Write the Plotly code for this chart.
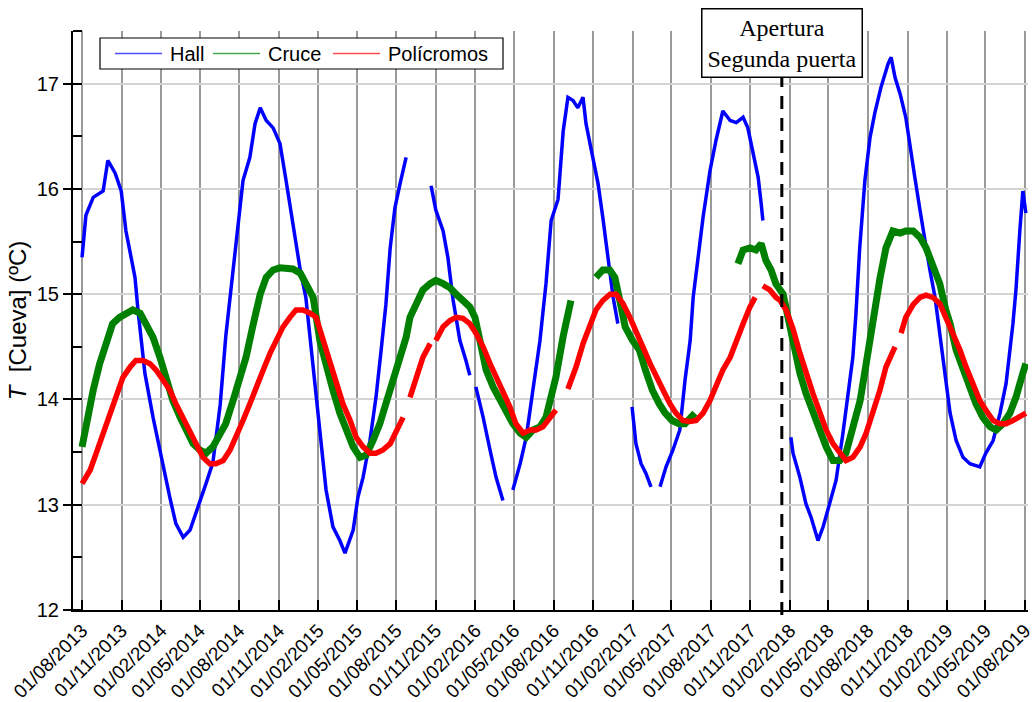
import plotly.graph_objects as go

# ---------------- data ----------------
hall_dates = [
    "2013-08-01", "2013-08-10", "2013-08-27", "2013-09-19", "2013-09-30", "2013-10-17", "2013-10-31",
    "2013-11-11", "2013-11-23", "2013-12-02", "2013-12-09", "2013-12-25", "2014-01-13", "2014-02-01",
    "2014-02-21", "2014-03-07", "2014-03-24", "2014-04-09", "2014-05-02", "2014-05-16", "2014-06-01",
    "2014-06-18", "2014-07-01", "2014-07-15", "2014-07-30", "2014-08-10", "2014-08-26", "2014-09-07",
    "2014-09-19", "2014-10-03", "2014-10-19", "2014-11-04", "2014-11-18", "2014-12-04", "2014-12-21",
    "2015-01-03", "2015-01-20", "2015-02-05", "2015-02-19", "2015-03-07", "2015-03-23", "2015-04-04",
    "2015-04-23", "2015-05-04", "2015-05-16", "2015-06-01", "2015-06-15", "2015-06-27", "2015-07-08",
    "2015-07-18", "2015-07-29", "2015-08-10", "2015-08-24",
    "2015-09-15",
    "2015-10-21", "2015-11-01", "2015-11-18", "2015-11-29", "2015-12-11", "2015-12-27", "2016-01-10",
    "2016-01-19",
    "2016-01-26",
    "2016-02-02", "2016-02-19", "2016-03-06", "2016-03-20", "2016-04-05",
    "2016-04-15",
    "2016-04-28", "2016-05-15", "2016-05-29", "2016-06-14", "2016-06-30", "2016-07-14", "2016-07-26",
    "2016-08-11", "2016-08-23", "2016-09-03", "2016-09-15", "2016-09-26", "2016-10-08", "2016-10-15",
    "2016-10-31", "2016-11-12", "2016-11-23", "2016-12-05", "2016-12-17", "2016-12-28",
    "2017-01-15",
    "2017-01-30", "2017-02-08", "2017-02-20", "2017-03-03", "2017-03-15",
    "2017-03-25",
    "2017-04-05", "2017-04-19", "2017-05-05", "2017-05-21", "2017-06-02", "2017-06-14", "2017-06-21",
    "2017-07-02", "2017-07-14", "2017-07-30", "2017-08-13", "2017-08-29", "2017-09-15", "2017-09-29",
    "2017-10-15", "2017-10-26", "2017-11-07", "2017-11-19", "2017-11-26", "2017-11-30",
    "2018-01-01",
    "2018-02-03", "2018-02-08", "2018-02-24", "2018-03-10", "2018-03-22", "2018-04-07", "2018-04-19",
    "2018-05-05", "2018-05-19", "2018-06-04", "2018-06-16", "2018-06-27", "2018-07-04", "2018-07-13",
    "2018-07-25", "2018-08-06", "2018-08-17", "2018-08-31", "2018-09-17", "2018-09-24", "2018-10-03",
    "2018-10-15", "2018-10-28", "2018-11-07", "2018-11-18", "2018-11-30", "2018-12-12", "2018-12-23",
    "2019-01-04", "2019-01-15", "2019-01-27", "2019-02-08", "2019-02-22", "2019-03-10", "2019-03-26",
    "2019-04-18", "2019-05-02", "2019-05-19", "2019-06-04", "2019-06-18", "2019-07-04", "2019-07-11",
    "2019-07-20", "2019-07-27", "2019-08-03",
]
hall_values = [
    15.35, 15.75, 15.92, 15.98, 16.27, 16.15, 15.98,
    15.60, 15.35, 15.16, 14.85, 14.25, 13.83, 13.45,
    13.07, 12.82, 12.69, 12.76, 13.02, 13.20, 13.40,
    13.95, 14.60, 15.10, 15.67, 16.08, 16.30, 16.62,
    16.77, 16.65, 16.58, 16.43, 16.08, 15.67, 15.23,
    14.97, 14.31, 13.71, 13.14, 12.79, 12.66, 12.54,
    12.76, 13.07, 13.26, 13.61, 14.02, 14.47, 14.90,
    15.44, 15.82, 16.05, 16.30,
    None,
    16.03, 15.80, 15.60, 15.35, 14.95, 14.56, 14.37,
    14.23,
    None,
    14.12, 13.83, 13.52, 13.26, 13.04,
    None,
    13.14, 13.39, 13.64, 14.09, 14.56, 15.10, 15.70,
    15.90, 16.55, 16.87, 16.84, 16.77, 16.87, 16.62,
    16.30, 16.05, 15.73, 15.35, 14.97, 14.72,
    None,
    13.93, 13.58, 13.39, 13.30, 13.17,
    None,
    13.17, 13.36, 13.52, 13.71, 14.18, 14.56, 14.97,
    15.35, 15.73, 16.17, 16.46, 16.74, 16.65, 16.63,
    16.68, 16.58, 16.36, 16.11, 15.86, 15.70,
    None,
    13.64, 13.49, 13.26, 13.01, 12.88, 12.66, 12.79,
    13.04, 13.23, 13.68, 14.09, 14.40, 14.80, 15.44,
    16.08, 16.49, 16.72, 16.96, 17.19, 17.25, 17.06,
    16.90, 16.68, 16.39, 16.11, 15.80, 15.48, 15.23,
    14.97, 14.63, 14.25, 13.87, 13.61, 13.45, 13.39,
    13.36, 13.49, 13.61, 13.87, 14.15, 14.72, 15.04,
    15.60, 15.98, 15.77,
]

cruce_dates = [
    "2013-08-01", "2013-08-10", "2013-08-27", "2013-09-11", "2013-09-26", "2013-10-11", "2013-10-27",
    "2013-11-11", "2013-11-27", "2013-12-14", "2013-12-27", "2014-01-13", "2014-01-29", "2014-02-12",
    "2014-02-28", "2014-03-17", "2014-03-31", "2014-04-16", "2014-05-02", "2014-05-16", "2014-06-01",
    "2014-06-18", "2014-07-01", "2014-07-18", "2014-08-03", "2014-08-17", "2014-09-02", "2014-09-19",
    "2014-10-03", "2014-10-19", "2014-11-04", "2014-11-18", "2014-12-04", "2014-12-21", "2015-01-03",
    "2015-01-20", "2015-02-05", "2015-02-19", "2015-03-07", "2015-03-23", "2015-04-06", "2015-04-23",
    "2015-05-09", "2015-05-23", "2015-06-08", "2015-06-24", "2015-07-08", "2015-07-24", "2015-08-10",
    "2015-08-24", "2015-09-02", "2015-09-15", "2015-10-02", "2015-10-19", "2015-11-01", "2015-11-18",
    "2015-12-04", "2015-12-18", "2016-01-03", "2016-01-19", "2016-01-31", "2016-02-12", "2016-02-26",
    "2016-03-13", "2016-03-29", "2016-04-12", "2016-04-28", "2016-05-15", "2016-05-29", "2016-06-14",
    "2016-06-30", "2016-07-14", "2016-07-30", "2016-08-06", "2016-08-23", "2016-09-10",
    "2016-10-01",
    "2016-11-07", "2016-11-23", "2016-12-09", "2016-12-21", "2017-01-01", "2017-01-14", "2017-01-31",
    "2017-02-16", "2017-03-02", "2017-03-18", "2017-04-03", "2017-04-17", "2017-05-03", "2017-05-19",
    "2017-06-02", "2017-06-18", "2017-06-25",
    "2017-08-01",
    "2017-10-03", "2017-10-15", "2017-10-31", "2017-11-14", "2017-11-26", "2017-12-07", "2017-12-19",
    "2017-12-30", "2018-01-16", "2018-02-01", "2018-02-08", "2018-02-24", "2018-03-10", "2018-03-26",
    "2018-04-12", "2018-04-26", "2018-05-12", "2018-05-28", "2018-06-11", "2018-06-27", "2018-07-14",
    "2018-07-28", "2018-08-13", "2018-08-29", "2018-09-12", "2018-09-28", "2018-10-15", "2018-10-28",
    "2018-11-14", "2018-11-30", "2018-12-14", "2018-12-30", "2019-01-15", "2019-01-29", "2019-02-08",
    "2019-02-22", "2019-03-10", "2019-03-26", "2019-04-09", "2019-04-25", "2019-05-12", "2019-05-26",
    "2019-06-11", "2019-06-27", "2019-07-11", "2019-07-27", "2019-08-03",
]
cruce_values = [
    13.55, 13.77, 14.09, 14.34, 14.56, 14.72, 14.78,
    14.82, 14.85, 14.82, 14.72, 14.59, 14.40, 14.18,
    13.99, 13.83, 13.71, 13.58, 13.52, 13.49, 13.55,
    13.68, 13.77, 13.99, 14.21, 14.40, 14.70, 15.00,
    15.16, 15.23, 15.25, 15.25, 15.24, 15.20, 15.10,
    14.97, 14.55, 14.31, 14.09, 13.87, 13.71, 13.55,
    13.45, 13.47, 13.61, 13.77, 13.96, 14.18, 14.40,
    14.59, 14.78, 14.91, 15.04, 15.10, 15.13, 15.10,
    15.06, 15.00, 14.94, 14.88, 14.78, 14.55, 14.28,
    14.12, 13.99, 13.87, 13.77, 13.68, 13.64, 13.71,
    13.74, 13.83, 14.09, 14.21, 14.60, 14.94,
    None,
    15.16, 15.23, 15.23, 15.16, 14.95, 14.69, 14.56,
    14.47, 14.28, 14.09, 13.96, 13.87, 13.80, 13.77,
    13.77, 13.83, 13.87,
    None,
    15.29, 15.42, 15.44, 15.42, 15.48, 15.32, 15.23,
    15.10, 15.00, 14.70, 14.50, 14.25, 14.06, 13.87,
    13.71, 13.55, 13.42, 13.42, 13.49, 13.71, 13.99,
    14.34, 14.80, 15.15, 15.44, 15.60, 15.58, 15.60,
    15.60, 15.54, 15.44, 15.29, 15.10, 14.85, 14.72,
    14.47, 14.28, 14.12, 13.96, 13.83, 13.74, 13.71,
    13.77, 13.87, 14.02, 14.25, 14.34,
]

poli_dates = [
    "2013-08-01", "2013-08-20", "2013-09-03", "2013-09-19", "2013-10-05", "2013-10-19", "2013-11-04",
    "2013-11-21", "2013-12-04", "2013-12-21", "2014-01-06", "2014-01-20", "2014-02-05", "2014-02-21",
    "2014-03-07", "2014-03-24", "2014-04-09", "2014-04-23", "2014-05-09", "2014-05-25", "2014-06-08",
    "2014-06-25", "2014-07-11", "2014-07-25", "2014-08-10", "2014-08-26", "2014-09-09", "2014-09-26",
    "2014-10-12", "2014-10-26", "2014-11-11", "2014-11-27", "2014-12-11", "2014-12-27", "2015-01-13",
    "2015-01-27", "2015-02-12", "2015-02-28", "2015-03-14", "2015-03-30", "2015-04-16", "2015-04-30",
    "2015-05-16", "2015-06-01", "2015-06-15", "2015-07-01", "2015-07-18", "2015-08-01", "2015-08-17",
    "2015-08-22",
    "2015-09-02", "2015-09-16", "2015-10-02", "2015-10-19",
    "2015-10-25",
    "2015-11-01", "2015-11-18", "2015-12-04", "2015-12-18", "2016-01-03", "2016-01-19", "2016-02-02",
    "2016-02-19", "2016-03-06", "2016-03-20", "2016-04-05", "2016-04-21", "2016-05-05", "2016-05-22",
    "2016-06-07", "2016-06-21", "2016-07-07", "2016-07-23", "2016-08-06",
    "2016-08-15",
    "2016-09-03", "2016-09-22", "2016-10-08", "2016-10-24", "2016-11-07", "2016-11-23", "2016-12-10",
    "2016-12-24", "2017-01-09", "2017-01-25", "2017-02-08", "2017-02-24", "2017-03-13", "2017-03-27",
    "2017-04-12", "2017-04-28", "2017-05-12", "2017-05-28", "2017-06-14", "2017-06-28", "2017-07-14",
    "2017-07-30", "2017-08-13", "2017-08-29", "2017-09-15", "2017-09-29", "2017-10-15", "2017-10-31",
    "2017-11-12",
    "2017-11-18",
    "2017-11-30", "2017-12-16", "2017-12-30", "2018-01-09", "2018-01-23", "2018-02-08", "2018-02-24",
    "2018-03-10", "2018-03-26", "2018-04-12", "2018-04-26", "2018-05-12", "2018-05-28", "2018-06-11",
    "2018-06-27", "2018-07-14", "2018-07-28", "2018-08-13", "2018-08-29", "2018-09-12", "2018-09-28",
    "2018-10-03",
    "2018-10-09",
    "2018-10-17", "2018-10-28", "2018-11-14", "2018-11-30", "2018-12-14", "2018-12-30", "2019-01-15",
    "2019-01-29", "2019-02-15", "2019-03-03", "2019-03-17", "2019-04-02", "2019-04-18", "2019-05-02",
    "2019-05-19", "2019-06-04", "2019-06-18", "2019-07-04", "2019-07-20", "2019-08-03",
]
poli_values = [
    13.20, 13.33, 13.49, 13.68, 13.83, 14.02, 14.21,
    14.31, 14.37, 14.37, 14.34, 14.28, 14.18, 14.09,
    13.96, 13.83, 13.71, 13.58, 13.45, 13.39, 13.39,
    13.42, 13.52, 13.64, 13.80, 13.96, 14.12, 14.28,
    14.44, 14.56, 14.69, 14.78, 14.85, 14.85, 14.82,
    14.78, 14.56, 14.34, 14.15, 13.96, 13.80, 13.64,
    13.55, 13.49, 13.49, 13.52, 13.58, 13.71, 13.83,
    None,
    14.02, 14.21, 14.40, 14.53,
    None,
    14.56, 14.69, 14.75, 14.78, 14.77, 14.72, 14.63,
    14.50, 14.34, 14.21, 14.09, 13.93, 13.77, 13.68,
    13.71, 13.71, 13.74, 13.83, 13.90,
    None,
    14.10, 14.31, 14.53, 14.72, 14.85, 14.94, 15.00,
    15.00, 14.91, 14.78, 14.66, 14.50, 14.34, 14.21,
    14.09, 13.96, 13.87, 13.80, 13.79, 13.80, 13.87,
    13.99, 14.12, 14.28, 14.40, 14.56, 14.72, 14.88,
    14.97,
    None,
    15.08, 15.04, 14.97, 14.94, 14.85, 14.67, 14.44,
    14.25, 14.06, 13.87, 13.71, 13.58, 13.49, 13.42,
    13.45, 13.55, 13.68, 13.87, 14.09, 14.31, 14.47,
    14.50,
    None,
    14.63, 14.78, 14.90, 14.97, 14.99, 14.97, 14.91,
    14.78, 14.63, 14.47, 14.31, 14.15, 13.99, 13.90,
    13.80, 13.77, 13.77, 13.80, 13.83, 13.87,
]

series_names = ["Hall", "Cruce", "Polícromos"]
series_colors = ["#0000ff", "#008000", "#ff0000"]

event_date = "2018-01-13"
event_text = "Apertura<br>Segunda puerta"
x_range = ["2013-07-11", "2019-08-08"]
y_range = [12, 17.5]
y_ticks = [12, 13, 14, 15, 16, 17]

# ---------------- figure ----------------
W, H = 1036, 702
ML, MR, MT, MB = 73, 8, 31, 92
PW, PH = W - ML - MR, H - MT - MB


def px_x(p):  # pixel -> paper x
    return (p - ML) / PW


def px_y(p):  # pixel -> paper y
    return (H - MB - p) / PH


fig = go.Figure()

line_widths = [3.5, 7, 5.5]
all_series = [(hall_dates, hall_values), (cruce_dates, cruce_values), (poli_dates, poli_values)]
for (xs, ys), name, color, lw in zip(all_series, series_names, series_colors, line_widths):
    fig.add_trace(go.Scatter(x=xs, y=ys, mode="lines", name=name, showlegend=False,
                             line=dict(color=color, width=lw), connectgaps=False))

# legend drawn as a box with line samples and text labels
leg_box = (100, 38, 503, 69)
leg_mid = (leg_box[1] + leg_box[3]) / 2
leg_samples = [(115, 162), (213, 260), (333, 380)]
leg_text_x = [168, 266, 386]
fig.add_shape(type="rect", xref="paper", yref="paper",
              x0=px_x(leg_box[0]), x1=px_x(leg_box[2]), y0=px_y(leg_box[3]), y1=px_y(leg_box[1]),
              line=dict(color="black", width=1.2), fillcolor="white", layer="above")
for (sx0, sx1), tx, name, color in zip(leg_samples, leg_text_x, series_names, series_colors):
    fig.add_shape(type="line", xref="paper", yref="paper",
                  x0=px_x(sx0), x1=px_x(sx1), y0=px_y(leg_mid), y1=px_y(leg_mid),
                  line=dict(color=color, width=1.5), opacity=0.7, layer="above")
    fig.add_annotation(x=px_x(tx), y=px_y(leg_mid), xref="paper", yref="paper", text=name,
                       showarrow=False, xanchor="left", yanchor="middle",
                       font=dict(family="Liberation Sans", size=20, color="black"))

fig.add_shape(type="line", xref="x", yref="paper", x0=event_date, x1=event_date,
              y0=px_y(615), y1=px_y(76), line=dict(color="black", width=3, dash="13px,9px"))

fig.add_annotation(x=event_date, xref="x", y=px_y(42.5), yref="paper", text=event_text,
                   showarrow=False, xanchor="center", yanchor="middle",
                   font=dict(family="Liberation Serif", size=24, color="black"),
                   bordercolor="black", borderwidth=1.5, borderpad=5, bgcolor="white")

fig.update_layout(
    width=W, height=H,
    margin=dict(l=ML, r=MR, t=MT, b=MB, autoexpand=False),
    paper_bgcolor="white", plot_bgcolor="white",
    font=dict(family="Liberation Sans", size=20, color="black"),
    showlegend=False,
)

fig.update_xaxes(
    type="date", range=x_range, automargin=False,
    tick0="2013-08-01", dtick="M3", tickformat="%d/%m/%Y", tickangle=-45,
    tickfont=dict(family="Liberation Sans", size=19, color="black"),
    ticks="inside", ticklen=10, tickwidth=2, tickcolor="black",
    showline=True, linecolor="black", linewidth=2,
    showgrid=True, gridcolor="#9a9a9a", gridwidth=2, zeroline=False,
)
fig.update_yaxes(
    range=y_range, tickvals=y_ticks, automargin=False,
    tickfont=dict(family="Liberation Sans", size=20, color="black"),
    ticks="outside", ticklen=8, tickwidth=2, tickcolor="black",
    minor=dict(dtick=0.5, tick0=12, ticks="inside", ticklen=9, tickwidth=2, tickcolor="black", showgrid=False),
    showline=True, linecolor="black", linewidth=2,
    showgrid=True, gridcolor="#d4d4d4", gridwidth=1.5, zeroline=False,
    title=dict(text="<i>T</i>\u00a0 [Cueva] (ºC)", font=dict(family="Liberation Sans", size=24), standoff=3),
)

fig.write_html("out.html", config={"displayModeBar": False},
               post_script="document.body.style.margin='0px';document.body.style.overflow='hidden';")
